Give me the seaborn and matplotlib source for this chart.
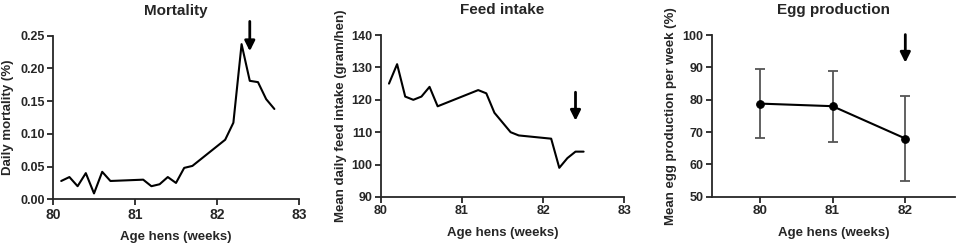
import pandas as pd
import seaborn as sns
import matplotlib.pyplot as plt

# mortality (daily, %)
mort_age = [80.1, 80.2, 80.3, 80.4, 80.5, 80.6, 80.7, 81.1, 81.2, 81.3, 81.4, 81.5,
            81.6, 81.7, 82.1, 82.2, 82.3, 82.4, 82.5, 82.6, 82.7]
mort_val = [0.028, 0.034, 0.020, 0.040, 0.009, 0.042, 0.028, 0.030, 0.020, 0.023, 0.034, 0.025,
            0.048, 0.051, 0.091, 0.117, 0.237, 0.181, 0.179, 0.153, 0.138]

# feed intake (gram/hen/day)
feed_age = [80.1, 80.2, 80.3, 80.4, 80.5, 80.6, 80.7, 81.2, 81.3, 81.4, 81.5,
            81.6, 81.7, 82.1, 82.2, 82.3, 82.4, 82.5]
feed_val = [125, 131, 121, 120, 121, 124, 118, 123, 122, 116, 113,
            110, 109, 108, 99, 102, 104, 104]

# egg production (% per week), mean and SD
egg_age = [80, 81, 82]
egg_mean = [78.8, 78.0, 68.0]
egg_sd = [10.7, 11.0, 13.1]

sns.set_style("ticks")
plt.rcParams["font.family"] = ["Liberation Sans", "DejaVu Sans"]
plt.rcParams["font.weight"] = "bold"

fig = plt.figure(figsize=(9.57, 2.45), dpi=100)
ax1 = fig.add_axes([0.0554, 0.1865, 0.257, 0.668])
ax2 = fig.add_axes([0.398, 0.196, 0.2542, 0.661])
ax3 = fig.add_axes([0.7437, 0.197, 0.254, 0.66])

lw = 1.5
sns.lineplot(x=mort_age, y=mort_val, ax=ax1, color="black", linewidth=lw)
sns.lineplot(x=feed_age, y=feed_val, ax=ax2, color="black", linewidth=lw)
ax3.errorbar(egg_age, egg_mean, yerr=egg_sd, fmt="none", ecolor="#555555",
             elinewidth=1.3, capsize=3.5, capthick=1.3)
sns.lineplot(x=egg_age, y=egg_mean, ax=ax3, color="black", linewidth=lw,
             marker="o", markersize=5.5, markeredgecolor="black")

ax1.set_xlim(80, 83)
ax1.set_ylim(0, 0.25)
ax1.set_xticks([80, 81, 82, 83])
ax1.set_yticks([0, 0.05, 0.10, 0.15, 0.20, 0.25])
ax1.set_yticklabels(["0.00", "0.05", "0.10", "0.15", "0.20", "0.25"])
ax1.set_ylabel("Daily mortality (%)")
ax1.set_title("Mortality")

ax2.set_xlim(80, 83)
ax2.set_ylim(90, 140)
ax2.set_xticks([80, 81, 82, 83])
ax2.set_yticks([90, 100, 110, 120, 130, 140])
ax2.set_ylabel("Mean daily feed intake (gram/hen)")
ax2.set_title("Feed intake")

ax3.set_xlim(79.34, 82.68)
ax3.set_ylim(50, 100)
ax3.set_xticks([80, 81, 82])
ax3.set_yticks([50, 60, 70, 80, 90, 100])
ax3.set_ylabel("Mean egg production per week (%)")
ax3.set_title("Egg production")

tick_sizes = {ax1: (10, 9), ax2: (9, 9), ax3: (9.7, 9)}
for ax in (ax1, ax2, ax3):
    ax.set_xlabel("Age hens (weeks)", fontsize=9.5, fontweight="bold", labelpad=7)
    ax.yaxis.label.set_fontsize(9.5)
    ax.yaxis.label.set_fontweight("bold")
    ax.set_title(ax.get_title(), fontsize=11, fontweight="bold", pad=15)
    ax.tick_params(width=1.3, length=4, pad=2)
    ax.tick_params(axis="x", labelsize=tick_sizes[ax][0])
    ax.tick_params(axis="y", labelsize=tick_sizes[ax][1])
    for lab in ax.get_xticklabels() + ax.get_yticklabels():
        lab.set_fontweight("bold")
    for s in ("left", "bottom"):
        ax.spines[s].set_linewidth(1.3)
    sns.despine(ax=ax)

ax1.yaxis.set_label_coords(-0.158, 0.5)
ax2.yaxis.set_label_coords(-0.14, 0.5)
ax3.yaxis.set_label_coords(-0.143, 0.5)

arrow = dict(arrowstyle="-|>,head_length=0.6,head_width=0.3", color="black", lw=2)
ax1.annotate("", xy=(82.4, 0.222), xytext=(82.4, 0.276), arrowprops=arrow, annotation_clip=False)
ax2.annotate("", xy=(82.4, 112.7), xytext=(82.4, 123.2), arrowprops=arrow, annotation_clip=False)
ax3.annotate("", xy=(82, 90.6), xytext=(82, 101), arrowprops=arrow, annotation_clip=False)

fig.savefig("out.png", dpi=100)
